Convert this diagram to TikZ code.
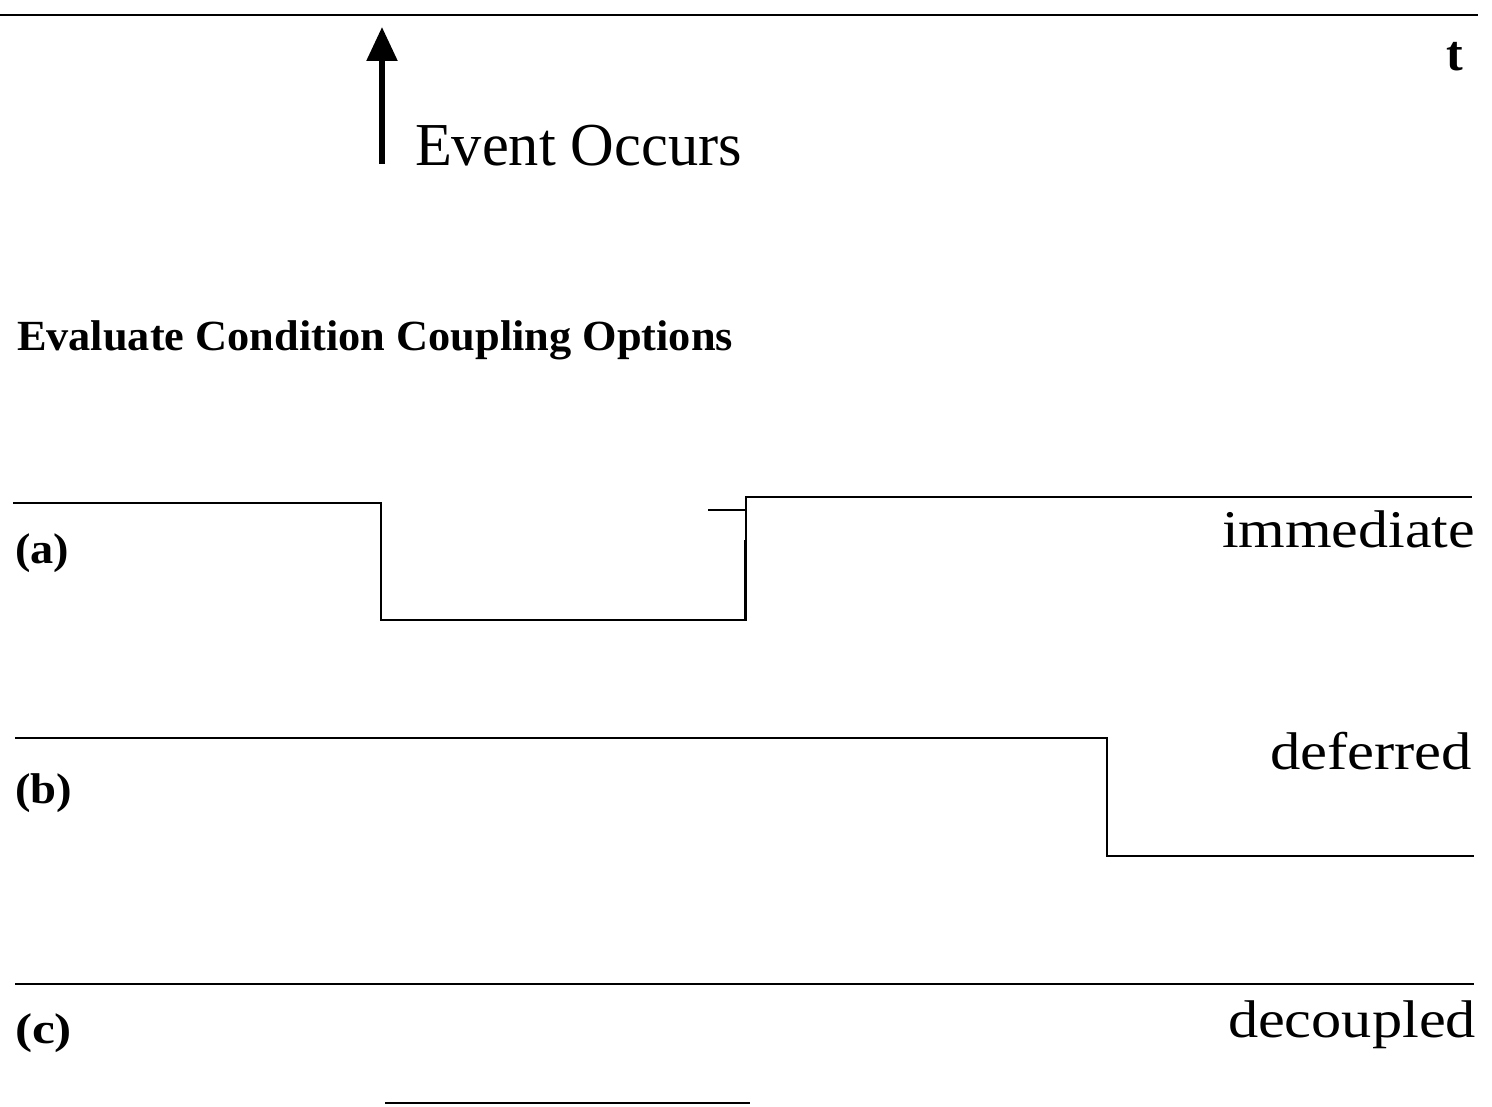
\documentclass[tikz,border=0pt]{standalone}
\usepackage{fontspec}
\setmainfont{Liberation Serif}
\usetikzlibrary{arrows.meta}
% stretch a label horizontally to a given width, keeping its height
\newcommand\wideto[2]{\resizebox{#1}{\height}{#2}}
\tikzset{
  wave/.style={line width=1.8pt, line join=miter, black},
  axis/.style={line width=1.8pt, black},
  lbl/.style={inner sep=0pt, outer sep=0pt},
}
\begin{document}
\begin{tikzpicture}[x=1pt, y=-1pt]
\useasboundingbox (0,0) rectangle (1492,1107);
\fill[white] (0,0) rectangle (1492,1107);

% time axis
\draw[axis] (0,15) -- (1478,15);
\node[lbl, anchor=base] (t) at (1455,71) {\fontsize{50}{50}\selectfont\bfseries t};

% event marker
\coordinate (evbase) at (382,164);
\coordinate (evtip) at (382,27);
\draw[line width=5.5pt, -{Triangle[length=34pt,width=30pt]}] (evbase) -- (evtip);
\node[lbl, anchor=base west] (event) at (415,166) {\wideto{327pt}{\fontsize{61}{61}\selectfont Event Occurs}};

% heading
\node[lbl, anchor=base west] (head) at (17,350)
  {\wideto{716pt}{\fontsize{43}{43}\selectfont\bfseries Evaluate Condition Coupling Options}};

% (a) immediate
\draw[wave] (13,503) -- (381,503) -- (381,620) -- (746,620) -- (746,497) -- (1472,497);
\draw[wave] (708,510) -- (746,510);
\draw[line width=1pt] (744,540) -- (744,620);
\node[lbl, anchor=base west] (la) at (15,563) {\wideto{54pt}{\fontsize{43}{43}\selectfont\bfseries (a)}};
\node[lbl, anchor=base east] (na) at (1475,547) {\wideto{253pt}{\fontsize{53}{53}\selectfont immediate}};

% (b) deferred
\draw[wave] (15,738) -- (1107,738) -- (1107,856) -- (1474,856);
\node[lbl, anchor=base west] (lb) at (15,803) {\wideto{57pt}{\fontsize{43}{43}\selectfont\bfseries (b)}};
\node[lbl, anchor=base east] (nb) at (1472,769) {\wideto{202pt}{\fontsize{53}{53}\selectfont deferred}};

% (c) decoupled
\draw[wave] (15,984) -- (1474,984);
\node[lbl, anchor=base west] (lc) at (15,1043) {\wideto{57pt}{\fontsize{43}{43}\selectfont\bfseries (c)}};
\node[lbl, anchor=base east] (nc) at (1476,1037) {\wideto{248pt}{\fontsize{53}{53}\selectfont decoupled}};

% trailing segment
\draw[wave] (385,1103) -- (750,1103);
\end{tikzpicture}
\end{document}
